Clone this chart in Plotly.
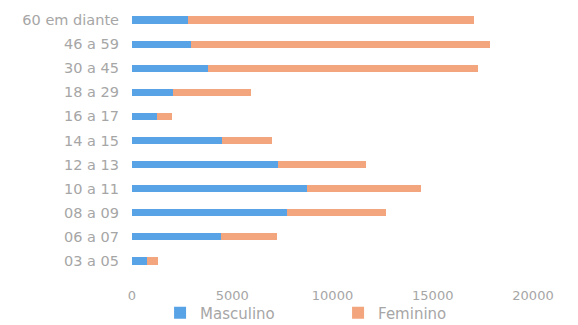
import plotly.graph_objects as go

# age groups, bottom to top
faixas = ["03 a 05", "06 a 07", "08 a 09", "10 a 11", "12 a 13", "14 a 15",
          "16 a 17", "18 a 29", "30 a 45", "46 a 59", "60 em diante"]
masculino = [750, 4450, 7750, 8750, 7300, 4500, 1250, 2050, 3800, 2950, 2800]
feminino = [550, 2800, 4900, 5650, 4350, 2500, 750, 3900, 13450, 14900, 14250]
xticks = [0, 5000, 10000, 15000, 20000]

txt = "#a6a6a6"
fnt = "DejaVu Sans"

fig = go.Figure()
fig.add_trace(go.Bar(y=faixas, x=masculino, orientation="h", name="Masculino",
                     marker=dict(color="#58A3E6", line=dict(width=0))))
fig.add_trace(go.Bar(y=faixas, x=feminino, orientation="h", name="Feminino",
                     marker=dict(color="#F3A67D", line=dict(width=0))))

# page body has an 8px margin, so the figure is a bit smaller than the window
fig.update_layout(
    width=570, height=317,
    barmode="stack", bargap=0.7,
    margin=dict(l=124, r=45, t=0, b=52),
    plot_bgcolor="white", paper_bgcolor="white",
    font=dict(family=fnt, size=13, color=txt),
    xaxis=dict(range=[0, 20000], tickvals=xticks, ticktext=[str(v) for v in xticks],
               showgrid=False, zeroline=False, showline=False, automargin=False,
               ticks="outside", ticklen=10, tickcolor="white",
               tickfont=dict(family=fnt, size=13, color=txt)),
    yaxis=dict(showgrid=False, zeroline=False, showline=False, automargin=False,
               ticklabelstandoff=12, tickfont=dict(family=fnt, size=14.5, color=txt)),
    legend=dict(orientation="h", x=0.07, xanchor="left",
                yref="container", y=0.038, yanchor="middle",
                bgcolor="rgba(0,0,0,0)", tracegroupgap=0,
                font=dict(family=fnt, size=15, color=txt), traceorder="normal",
                itemwidth=30, entrywidth=133, entrywidthmode="pixels"),
    showlegend=True,
)

fig.write_html("out.html")
